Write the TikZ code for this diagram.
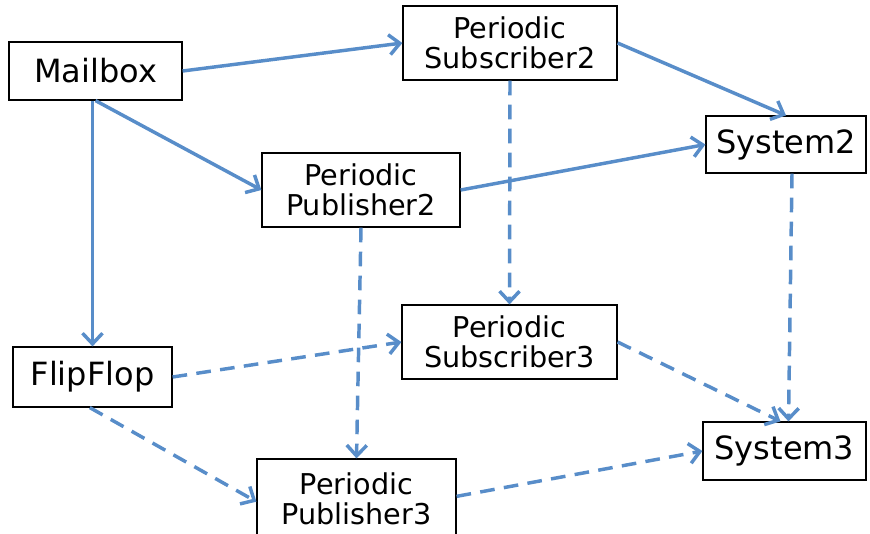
\documentclass[tikz,border=0pt]{standalone}
\usepackage{fontspec}
\setmainfont{DejaVu Sans}
\usetikzlibrary{arrows.meta}
\definecolor{linkblue}{RGB}{88,141,201}
\begin{document}
\begin{tikzpicture}[x=0.75pt,y=-0.75pt,
  box/.style={draw=black,line width=0.9pt,fill=white,inner sep=0pt,align=center},
  bigtxt/.style={font=\fontsize{24}{24}\selectfont},
  twotxt/.style={font=\fontsize{21.5}{22.5}\selectfont},
  link/.style={draw=linkblue,line width=2.6pt,-{Straight Barb[length=8pt,width=15pt]}},
  dlink/.style={link,dash pattern=on 11pt off 7pt}]
\useasboundingbox (0,0) rectangle (870,533);
\clip (0,0) rectangle (870,533);

% boxes
\node[box,bigtxt,minimum width=173*0.75pt,minimum height=58*0.75pt] (mailbox) at (95.5,71) {Mailbox};
\node[box,twotxt,minimum width=214*0.75pt,minimum height=74*0.75pt] (ps2) at (510,43) {Periodic\\Subscriber2};
\node[box,twotxt,minimum width=198*0.75pt,minimum height=74*0.75pt] (pp2) at (361,190) {Periodic\\Publisher2};
\node[box,bigtxt,minimum width=160*0.75pt,minimum height=57*0.75pt] (sys2) at (786,144.5) {System2};
\node[box,bigtxt,minimum width=159*0.75pt,minimum height=60*0.75pt] (flip) at (92.5,377) {FlipFlop};
\node[box,twotxt,minimum width=215*0.75pt,minimum height=74*0.75pt] (ps3) at (509.5,342) {Periodic\\Subscriber3};
\node[box,twotxt,minimum width=199*0.75pt,minimum height=80*0.75pt] (pp3) at (356.5,499) {Periodic\\Publisher3};
\node[box,bigtxt,minimum width=163*0.75pt,minimum height=58*0.75pt] (sys3) at (784.5,451) {System3};

% solid connectors
\draw[link] (mailbox.east) -- (ps2.west);
\draw[link] (mailbox.south) -- (pp2.west);
\draw[link] (mailbox.south -| flip.north) -- (flip.north);
\draw[link] (ps2.east) -- (sys2.north);
\draw[link] (pp2.east) -- (sys2.west);

% dashed connectors
\draw[dlink] (ps2.south) -- (ps3.north);
\draw[dlink] (pp2.south) -- (pp3.north);
\draw[dlink] ([xshift=4.5pt]sys2.south) -- ([xshift=3pt]sys3.north);
\draw[dlink] (flip.east) -- (ps3.west);
\draw[dlink] ([xshift=-2pt]flip.south) -- ([yshift=-2pt]pp3.west);
\draw[dlink] (ps3.east) -- ([xshift=-3pt]sys3.north);
\draw[dlink] ([yshift=2pt]pp3.east) -- (sys3.west);
\end{tikzpicture}
\end{document}
